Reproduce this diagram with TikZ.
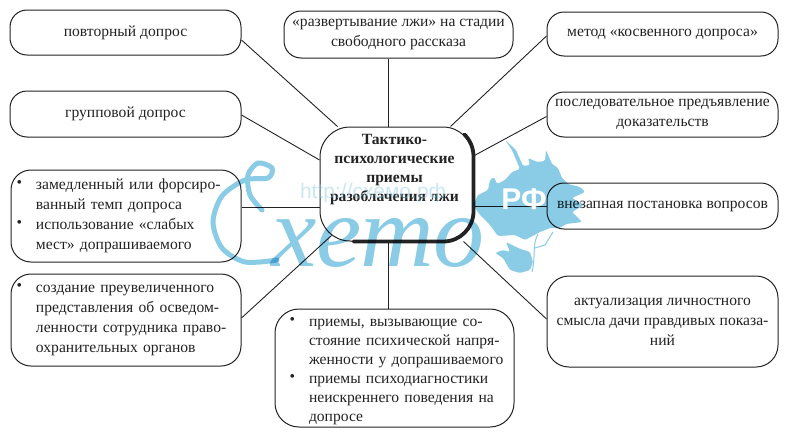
\documentclass[tikz,border=0pt]{standalone}
\usepackage{fontspec}
\setmainfont{Liberation Serif}
\newfontfamily\wmsans{Liberation Sans}
\usetikzlibrary{calc}
\definecolor{ink}{HTML}{232323}
\definecolor{wm}{HTML}{8ACBE6}
\newcommand{\ind}{}
\newcommand{\tl}{\hspace*{\ind}}
\newcommand{\bl}{\hspace*{\ind}\llap{\raisebox{2pt}{\textbullet}\hspace{14pt}}}
\tikzset{
  box/.style={draw=ink,line width=1pt,fill=white,rounded corners=17pt,inner sep=0pt,text=ink,
    font=\fontsize{15.6}{20}\selectfont,align=center},
  central/.style={box,rounded corners=30pt,font=\bfseries\fontsize{15.6}{19}\selectfont},
  conn/.style={draw=ink,line width=0.9pt},
  wmline/.style={draw=wm,line width=5pt,line cap=round},
  wmfill/.style={fill=wm}
}
\begin{document}
\begin{tikzpicture}[x=1pt,y=-1pt]
\useasboundingbox (0,0) rectangle (800,439);
\fill[white] (0,0) rectangle (800,439);
% nodes
\node[box,minimum width=231,minimum height=45] (povt) at (125.5,32.5) {повторный допрос};
\node[box,minimum width=231,minimum height=46] (grup) at (125.5,114) {групповой допрос};
\renewcommand{\ind}{17pt}
\node[box,minimum width=230,minimum height=92,text width=214,align=left,rounded corners=20pt] (zam) at (126,216)
  {\bl замедленный или форсиро-\\\tl ванный темп допроса\\\bl использование «слабых\\\tl мест» допрашиваемого};
\node[box,minimum width=230,minimum height=92,text width=214,align=left,rounded corners=20pt] (soz) at (126,320)
  {\bl создание преувеличенного\\\tl представления об осведом-\\\tl ленности сотрудника право-\\\tl охранительных органов};
\node[box,minimum width=229,minimum height=47] (razv) at (398.5,34.5) {«развертывание лжи» на стадии\\свободного рассказа};
\renewcommand{\ind}{26pt}
\node[box,minimum width=239,minimum height=118,text width=223,align=left,rounded corners=24pt,font=\fontsize{15.6}{19}\selectfont] (pri) at (394.5,368)
  {\mbox{}\\[-4pt]\bl приемы, вызывающие со-\\\tl стояние психической напря-\\\tl женности у допрашиваемого\\\bl приемы психодиагностики\\\tl неискреннего поведения на\\\tl допросе};
\node[box,minimum width=231,minimum height=44] (met) at (662.5,34) {метод «косвенного допроса»};
\node[box,minimum width=231,minimum height=45] (posl) at (662.5,114.5) {последовательное предъявление\\доказательств};
\node[box,minimum width=231,minimum height=46] (vnez) at (662.5,206) {внезапная постановка вопросов};
\node[box,minimum width=231,minimum height=91,rounded corners=22pt] (akt) at (662.5,321.5) {актуализация личностного\\смысла дачи правдивых показа-\\ний};
\node[central,minimum width=153,minimum height=114] (cen) at (396.5,184) {\hspace*{-4pt}Тактико-\\\hspace*{-4pt}психологические\\\hspace*{-4pt}приемы\\\hspace*{-4pt}разоблачения лжи\\[13pt]\mbox{}};
% connectors
\draw[conn] ($(povt.east)+(0,7.5)$) -- ($(cen.north west)+(18,0)$);
\draw[conn] ($(grup.east)+(0,1)$) -- ($(cen.west)+(0,-24)$);
\draw[conn] ($(zam.east)+(0,-9)$) -- ($(cen.west)+(0,23)$);
\draw[conn] ($(soz.east)+(0,-2)$) -- ($(cen.south west)+(12,-6)$);
\draw[conn] (razv.south -| 388,0) -- (cen.north -| 388,0);
\draw[conn] (cen.south -| 388,0) -- (pri.north -| 388,0);
\draw[conn] ($(met.west)+(0,2)$) -- ($(cen.north east)+(-23,0)$);
\draw[conn] ($(posl.west)+(0,2)$) -- ($(cen.east)+(0,-28)$);
\draw[conn] (vnez.west) -- ($(cen.east)+(0,22)$);
\draw[conn] ($(akt.west)+(0,-2.5)$) -- ($(cen.south east)+(-10,0)$);
% thick shade of the central box
\draw[ink,line width=3.8pt,line cap=round]
  ($(cen.north east)+(-9,8)$) .. controls ($(cen.north east)+(-3,14)$) and ($(cen.north east)+(0,22)$) .. ($(cen.north east)+(0,30)$)
  -- ($(cen.south east)+(0,-30)$) .. controls ($(cen.south east)+(0,-13.5)$) and ($(cen.south east)+(-13.5,0)$) .. ($(cen.south east)+(-30,0)$)
  -- ($(cen.south west)+(34,0)$);
% watermark
\begin{scope}[blend mode=multiply]
\fill[wmfill,rounded corners=1.5pt] (473,205) -- (478,195) -- (488,190) -- (490,180) -- (494,177) -- (497,184) -- (505,180) -- (512,172) -- (520,169)
  -- (512,150) -- (505,140) -- (516,150) -- (523,166) -- (530,165) -- (528,158) -- (537,162) -- (545,161) -- (546,150) -- (552,164)
  -- (558,168) -- (562,178) -- (568,184) -- (580,187) -- (585,192) -- (572,198) -- (584,205) -- (572,212) -- (582,222) -- (566,224)
  -- (560,228) -- (550,228) -- (540,232) -- (525,240) -- (515,235) -- (498,236) -- (490,225) -- (480,215) -- cycle;
\fill[wmfill,rounded corners=1.5pt] (495,253) -- (503,250) -- (510,252) -- (506,242) -- (518,248) -- (530,252) -- (533,262) -- (530,270) -- (520,273) -- (510,270) -- (503,258) -- cycle;
\draw[draw=wm,line width=1pt] (538,234) .. controls (532,245) and (536,255) .. (532,272);
\draw[draw=wm,line width=1pt] (535,248) -- (545,245) -- (553,232);
\draw[wmline] plot[smooth] coordinates {(277,260) (245,262) (222,248) (213,222) (222,196) (245,180) (268,178) (272,168) (258,163) (248,175) (250,195) (262,210)};
\node[text=wm,font=\itshape\fontsize{102}{102}\selectfont,inner sep=0pt,anchor=base] (hx) at (378,266) {хето};
\end{scope}
\node[text=wm,opacity=.45,font=\wmsans\fontsize{21}{21}\selectfont,inner sep=0pt] (hurl) at (373,193) {http://схемо.рф};
\node[text=white,font=\wmsans\bfseries\fontsize{30}{30}\selectfont,inner sep=0pt] (rf) at (524,199) {РФ};
\end{tikzpicture}
\end{document}
